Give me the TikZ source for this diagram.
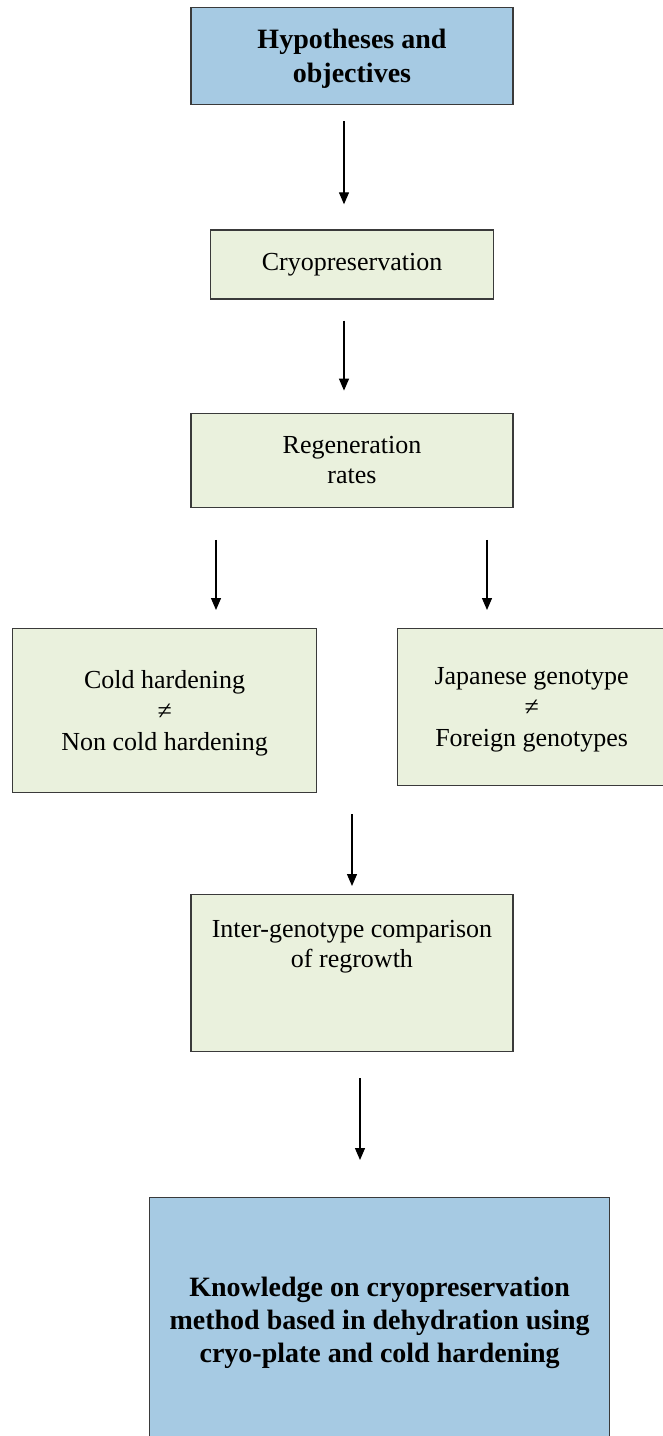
\documentclass[tikz,border=0pt]{standalone}
\usepackage{fontspec}
\setmainfont{Liberation Serif}
\usetikzlibrary{positioning, arrows.meta}
\definecolor{HeadBlue}{HTML}{A6CAE3}
\definecolor{StageGreen}{HTML}{EAF1DD}
\definecolor{Edge}{HTML}{3A3A3A}

\begin{document}
\begin{tikzpicture}[
      x=1pt, y=-1pt,
      font=\fontsize{26}{30}\selectfont,
      base/.style={draw=Edge, line width=1.3pt, align=center, inner sep=0pt},
      head/.style={base, fill=HeadBlue, font=\fontsize{28}{34}\selectfont\bfseries},
      stage/.style={base, fill=StageGreen},
      arr/.style={-{Triangle[length=12pt,width=10pt]}, line width=1.3pt, black}
    ]
      \useasboundingbox (0,0) rectangle (662,1436);
      \node[head, minimum width=322pt, minimum height=97pt, text depth=-8pt, anchor=north] (hyp) at (352,7) {Hypotheses and\\objectives};
      \node[stage, minimum width=283pt, minimum height=69pt, below=124pt of hyp] (cryo) {Cryopreservation};
      \node[stage, minimum width=322pt, minimum height=94pt, below=113pt of cryo] (regen) {Regeneration\\rates};
      \node[stage, minimum width=304pt, minimum height=164pt, text depth=-6pt, anchor=north west, font=\fontsize{26}{31}\selectfont] (cold) at (12,628) {Cold hardening\\≠\\Non cold hardening};
      \node[stage, minimum width=268pt, minimum height=157pt, text depth=-6pt, anchor=north west, font=\fontsize{26}{31}\selectfont] (japan) at (397,628) {Japanese genotype\\≠\\Foreign genotypes};
      \node[stage, minimum width=322pt, minimum height=157pt, text depth=58pt, anchor=north] (inter) at (352,894) {Inter-genotype comparison\\of regrowth};
      \node[head, minimum width=460pt, minimum height=250pt, anchor=north west, font=\fontsize{28}{33}\selectfont\bfseries] (know) at (149,1197) {Knowledge on cryopreservation\\method based in dehydration using\\cryo-plate and cold hardening};
      \foreach \a/\b/\s/\e in {hyp/cryo/16/25, cryo/regen/21/22}{\draw[arr, shorten <=\s pt, shorten >=\e pt] ([xshift=-8pt]\a.south) -- ([xshift=-8pt]\b.north);}
      \foreach \d/\n in {-136/cold, 135/japan}{\draw[arr, shorten <=32pt, shorten >=18pt] ([xshift=\d pt]regen.south) -- ([xshift=\d pt]regen.south |- \n.north);}
      \draw[arr, shorten <=21pt, shorten >=8pt] (cold.south -| inter.north) -- (inter.north);
      \draw[arr, shorten <=26pt, shorten >=37pt] ([xshift=8pt]inter.south) -- ([xshift=8pt]inter.south |- know.north);
    \end{tikzpicture}
\end{document}
